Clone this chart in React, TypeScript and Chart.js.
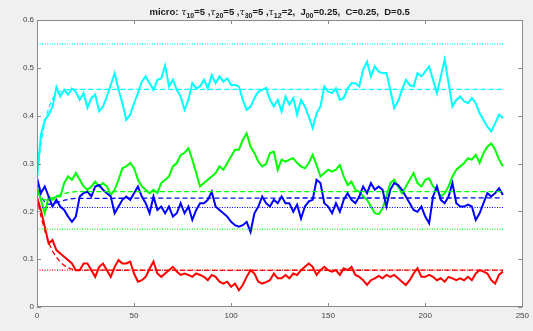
import React, { useEffect, useRef } from 'react';
import { Chart, registerables } from 'chart.js';

Chart.register(...registerables);

// ---- data ----
const T_STEP = 2; // simulation sampled every 2 time units, t = 0..240

const cyanSim = [
  0.27, 0.36, 0.391, 0.402, 0.419, 0.46, 0.44, 0.454, 0.444, 0.457,
  0.45, 0.433, 0.447, 0.416, 0.437, 0.444, 0.409, 0.419, 0.44, 0.464,
  0.489, 0.454, 0.426, 0.391, 0.402, 0.426, 0.447, 0.471, 0.482, 0.468,
  0.454, 0.475, 0.478, 0.505, 0.461, 0.475, 0.454, 0.44, 0.412, 0.433,
  0.468, 0.457, 0.461, 0.475, 0.457, 0.485, 0.468, 0.482, 0.471, 0.478,
  0.464, 0.464, 0.461, 0.433, 0.412, 0.419, 0.437, 0.45, 0.454, 0.458,
  0.433, 0.419, 0.433, 0.409, 0.44, 0.423, 0.437, 0.402, 0.433, 0.419,
  0.398, 0.374, 0.405, 0.419, 0.461, 0.45, 0.447, 0.457, 0.433, 0.437,
  0.457, 0.468, 0.468, 0.461, 0.496, 0.513, 0.482, 0.503, 0.492, 0.489,
  0.489, 0.454, 0.416, 0.43, 0.454, 0.475, 0.464, 0.461, 0.489, 0.482,
  0.492, 0.503, 0.475, 0.447, 0.482, 0.517, 0.468, 0.419, 0.433, 0.44,
  0.43, 0.426, 0.437, 0.426, 0.405, 0.391, 0.377, 0.367, 0.384, 0.402,
  0.395,
];

const greenSim = [
  0.25, 0.224, 0.196, 0.231, 0.224, 0.231, 0.231, 0.259, 0.273, 0.266,
  0.28, 0.266, 0.252, 0.245, 0.252, 0.262, 0.252, 0.259, 0.252, 0.234,
  0.245, 0.266, 0.29, 0.294, 0.301, 0.29, 0.266, 0.252, 0.245, 0.238,
  0.245, 0.238, 0.259, 0.266, 0.273, 0.294, 0.301, 0.318, 0.322, 0.332,
  0.308, 0.28, 0.252, 0.259, 0.266, 0.273, 0.28, 0.294, 0.287, 0.301,
  0.315, 0.329, 0.329, 0.349, 0.363, 0.335, 0.322, 0.304, 0.294, 0.299,
  0.322, 0.325, 0.287, 0.308, 0.304, 0.308, 0.311, 0.301, 0.294, 0.29,
  0.301, 0.318, 0.297, 0.273, 0.28, 0.287, 0.283, 0.287, 0.297, 0.273,
  0.255, 0.262, 0.245, 0.241, 0.231, 0.224, 0.21, 0.196, 0.194, 0.206,
  0.231, 0.259, 0.266, 0.252, 0.238, 0.252, 0.266, 0.28, 0.259, 0.252,
  0.266, 0.269, 0.252, 0.245, 0.231, 0.238, 0.252, 0.273, 0.287, 0.294,
  0.301, 0.311, 0.308, 0.318, 0.301, 0.322, 0.335, 0.342, 0.329, 0.308,
  0.294,
];

const blueSim = [
  0.27, 0.238, 0.252, 0.231, 0.21, 0.224, 0.21, 0.203, 0.189, 0.178,
  0.189, 0.231, 0.238, 0.241, 0.231, 0.252, 0.255, 0.245, 0.238, 0.231,
  0.196, 0.21, 0.224, 0.231, 0.224, 0.238, 0.252, 0.231, 0.217, 0.196,
  0.231, 0.203, 0.21, 0.196, 0.21, 0.189, 0.196, 0.217, 0.196, 0.21,
  0.182, 0.203, 0.217, 0.217, 0.224, 0.241, 0.21, 0.203, 0.196, 0.189,
  0.178, 0.171, 0.168, 0.171, 0.178, 0.157, 0.196, 0.21, 0.231, 0.217,
  0.21, 0.224, 0.217, 0.231, 0.217, 0.217, 0.199, 0.214, 0.185, 0.21,
  0.221, 0.224, 0.266, 0.259, 0.217, 0.21, 0.196, 0.217, 0.199, 0.224,
  0.238, 0.224, 0.217, 0.231, 0.252, 0.238, 0.259, 0.245, 0.252, 0.245,
  0.21, 0.245, 0.259, 0.255, 0.245, 0.231, 0.217, 0.203, 0.199, 0.21,
  0.189, 0.175, 0.231, 0.252, 0.224, 0.217, 0.231, 0.259, 0.217, 0.21,
  0.21, 0.214, 0.21, 0.182, 0.196, 0.217, 0.238, 0.231, 0.238, 0.248,
  0.234,
];

const redSim = [
  0.23, 0.203, 0.168, 0.133, 0.14, 0.119, 0.112, 0.105, 0.098, 0.091,
  0.077, 0.077, 0.091, 0.091, 0.077, 0.063, 0.084, 0.091, 0.077, 0.063,
  0.084, 0.098, 0.091, 0.091, 0.095, 0.07, 0.053, 0.056, 0.063, 0.08,
  0.095, 0.07, 0.063, 0.07, 0.077, 0.084, 0.074, 0.067, 0.07, 0.067,
  0.063, 0.07, 0.067, 0.063, 0.056, 0.067, 0.063, 0.053, 0.049, 0.053,
  0.042, 0.049, 0.035, 0.046, 0.063, 0.077, 0.07, 0.053, 0.049, 0.052,
  0.056, 0.07, 0.06, 0.06, 0.067, 0.06, 0.07, 0.067, 0.077, 0.084,
  0.091, 0.084, 0.067, 0.077, 0.084, 0.077, 0.074, 0.077, 0.067, 0.081,
  0.077, 0.084, 0.067, 0.063, 0.056, 0.046, 0.056, 0.06, 0.065, 0.06,
  0.067, 0.063, 0.067, 0.06, 0.053, 0.046, 0.056, 0.07, 0.081, 0.063,
  0.063, 0.067, 0.063, 0.056, 0.06, 0.053, 0.063, 0.06, 0.056, 0.06,
  0.056, 0.063, 0.056, 0.07, 0.077, 0.074, 0.07, 0.056, 0.049, 0.067,
  0.074,
];

// mean-field (dashed) curves
const cyanOdeT = [0, 2, 4, 6, 8, 10, 12, 15, 20, 240];
const cyanOde = [0.27, 0.34, 0.385, 0.415, 0.435, 0.445, 0.45, 0.454, 0.455, 0.455];
const greenOdeT = [0, 3, 6, 10, 15, 20, 240];
const greenOde = [0.24, 0.225, 0.225, 0.232, 0.238, 0.241, 0.241];
const blueOdeT = [0, 3, 6, 10, 15, 20, 240];
const blueOde = [0.26, 0.225, 0.215, 0.218, 0.224, 0.227, 0.228];
const redOdeT = [0, 2, 4, 6, 8, 10, 12, 14, 16, 18, 22, 240];
const redOde = [0.23, 0.19, 0.16, 0.135, 0.117, 0.104, 0.094, 0.087, 0.082, 0.079, 0.077, 0.077];

// steady-state (dotted) levels
const levelT = [0, 240];
const cyanLevel = 0.55;
const blueLevel = 0.208;
const greenLevel = 0.163;
const redLevel = 0.077;

const xTicks = ['0', '50', '100', '150', '200', '250'];
const yTicks = ['0', '0.1', '0.2', '0.3', '0.4', '0.5', '0.6'];

const titleParts: { text: string; sub?: boolean; greek?: boolean }[] = [
  { text: 'micro: ' },
  { text: 'τ', greek: true }, { text: '10', sub: true }, { text: '=5 ,' },
  { text: 'τ', greek: true }, { text: '20', sub: true }, { text: '=5 ,' },
  { text: 'τ', greek: true }, { text: '30', sub: true }, { text: '=5 ,' },
  { text: 'τ', greek: true }, { text: '12', sub: true }, { text: '=2,  J' },
  { text: '00', sub: true }, { text: '=0.25,  C=0.25,  D=0.5' },
];

const CYAN = '#00ffff';
const GREEN = '#00ff00';
const BLUE = '#0000ff';
const RED = '#ff0000';

const pts = (xs: number[], ys: number[]) => ys.map((y, i) => ({ x: xs[i], y }));
const simT = cyanSim.map((_, i) => i * T_STEP);
const flat = (v: number) => levelT.map((t) => ({ x: t, y: v }));

const bgPlugin = {
  id: 'bg',
  beforeDraw(chart: any) {
    const { ctx, chartArea: a, width, height } = chart;
    ctx.save();
    ctx.fillStyle = '#f0f0f0';
    ctx.fillRect(0, 0, width, height);
    ctx.fillStyle = '#ffffff';
    ctx.fillRect(a.left, a.top, a.right - a.left, a.bottom - a.top);
    ctx.restore();
  },
};

const framePlugin = {
  id: 'frame',
  afterDraw(chart: any) {
    const { ctx, chartArea: a, scales } = chart;
    ctx.save();
    ctx.strokeStyle = '#8a8a8a';
    ctx.lineWidth = 1;
    ctx.strokeRect(Math.round(a.left) + 0.5, Math.round(a.top) + 0.5, Math.round(a.right - a.left), Math.round(a.bottom - a.top) - 1);
    const L = 4;
    ctx.beginPath();
    scales.x.ticks.forEach((t: any) => {
      const px = Math.round(scales.x.getPixelForValue(t.value)) + 0.5;
      ctx.moveTo(px, a.bottom);
      ctx.lineTo(px, a.bottom - L);
      ctx.moveTo(px, a.top);
      ctx.lineTo(px, a.top + L);
    });
    scales.y.ticks.forEach((t: any) => {
      const py = Math.round(scales.y.getPixelForValue(t.value)) + 0.5;
      ctx.moveTo(a.left, py);
      ctx.lineTo(a.left + L, py);
      ctx.moveTo(a.right, py);
      ctx.lineTo(a.right - L, py);
    });
    ctx.stroke();
    ctx.restore();
  },
};

const titlePlugin = {
  id: 'mtitle',
  afterDraw(chart: any) {
    const { ctx, chartArea: a } = chart;
    ctx.save();
    const mainFont = 'bold 9.5px "Liberation Sans", Arial, sans-serif';
    const greekFont = 'italic 9.5px "DejaVu Serif", serif';
    const subFont = 'bold 7px "Liberation Sans", Arial, sans-serif';
    const fontOf = (p: any) => (p.sub ? subFont : p.greek ? greekFont : mainFont);
    let total = 0;
    titleParts.forEach((p) => {
      ctx.font = fontOf(p);
      total += ctx.measureText(p.text).width;
    });
    let x = (a.left + a.right) / 2 - total / 2;
    const base = 15;
    ctx.fillStyle = '#1a1a1a';
    ctx.textBaseline = 'alphabetic';
    ctx.textAlign = 'left';
    titleParts.forEach((p) => {
      ctx.font = fontOf(p);
      ctx.fillText(p.text, x, p.sub ? base + 2.5 : base);
      x += ctx.measureText(p.text).width;
    });
    ctx.restore();
  },
};

const noisy = (data: any, color: string, order: number) => ({
  data, borderColor: color, borderWidth: 2, pointRadius: 0, tension: 0, fill: false, order,
});
const dashed = (data: any, color: string) => ({
  data, borderColor: color, borderWidth: 1.3, borderDash: [5, 3], pointRadius: 0, tension: 0.3, fill: false, order: 0,
});
const dotted = (data: any, color: string) => ({
  data, borderColor: color, borderWidth: 1.2, borderDash: [1, 1.5], pointRadius: 0, tension: 0, fill: false, order: 0,
});

export default function App() {
  const ref = useRef<HTMLCanvasElement>(null);
  useEffect(() => {
    document.body.style.margin = '0';
    const canvas = ref.current!;
    const tickFont = { family: '"Liberation Sans", Arial, sans-serif', size: 8 };
    const chart = new Chart(canvas, {
      type: 'line',
      data: {
        datasets: [
          dotted(flat(cyanLevel), CYAN),
          dotted(flat(blueLevel), BLUE),
          dotted(flat(greenLevel), GREEN),
          dotted(flat(redLevel), RED),
          dashed(pts(cyanOdeT, cyanOde), CYAN),
          dashed(pts(greenOdeT, greenOde), GREEN),
          dashed(pts(blueOdeT, blueOde), BLUE),
          dashed(pts(redOdeT, redOde), RED),
          noisy(pts(simT, blueSim), BLUE, 1),
          noisy(pts(simT, greenSim), GREEN, 2),
          noisy(pts(simT, cyanSim), CYAN, 3),
          noisy(pts(simT, redSim), RED, 4),
        ] as any,
      },
      options: {
        responsive: false,
        animation: false,
        devicePixelRatio: 1,
        layout: { padding: { left: 0, right: 7, top: 20, bottom: 0 } },
        plugins: { legend: { display: false }, tooltip: { enabled: false }, title: { display: false } },
        scales: {
          x: {
            type: 'linear', min: 0, max: 250,
            grid: { display: false, drawTicks: false },
            border: { display: false },
            ticks: {
              stepSize: 50, autoSkip: false, maxRotation: 0, padding: 4,
              color: '#444', font: tickFont,
              callback: (_v: any, i: number) => xTicks[i],
            },
            afterFit: (s: any) => { s.height = 24; },
          },
          y: {
            type: 'linear', min: 0, max: 0.6,
            grid: { display: false, drawTicks: false },
            border: { display: false },
            ticks: {
              stepSize: 0.1, autoSkip: false, padding: 3,
              color: '#444', font: tickFont,
              callback: (_v: any, i: number) => yTicks[i],
            },
            afterFit: (s: any) => { s.width = 37; },
          },
        },
      } as any,
      plugins: [bgPlugin, framePlugin, titlePlugin],
    });
    return () => chart.destroy();
  }, []);
  return (
    <div style={{ width: 533, height: 331 }}>
      <canvas ref={ref} width={533} height={331} style={{ display: 'block' }} />
    </div>
  );
}
